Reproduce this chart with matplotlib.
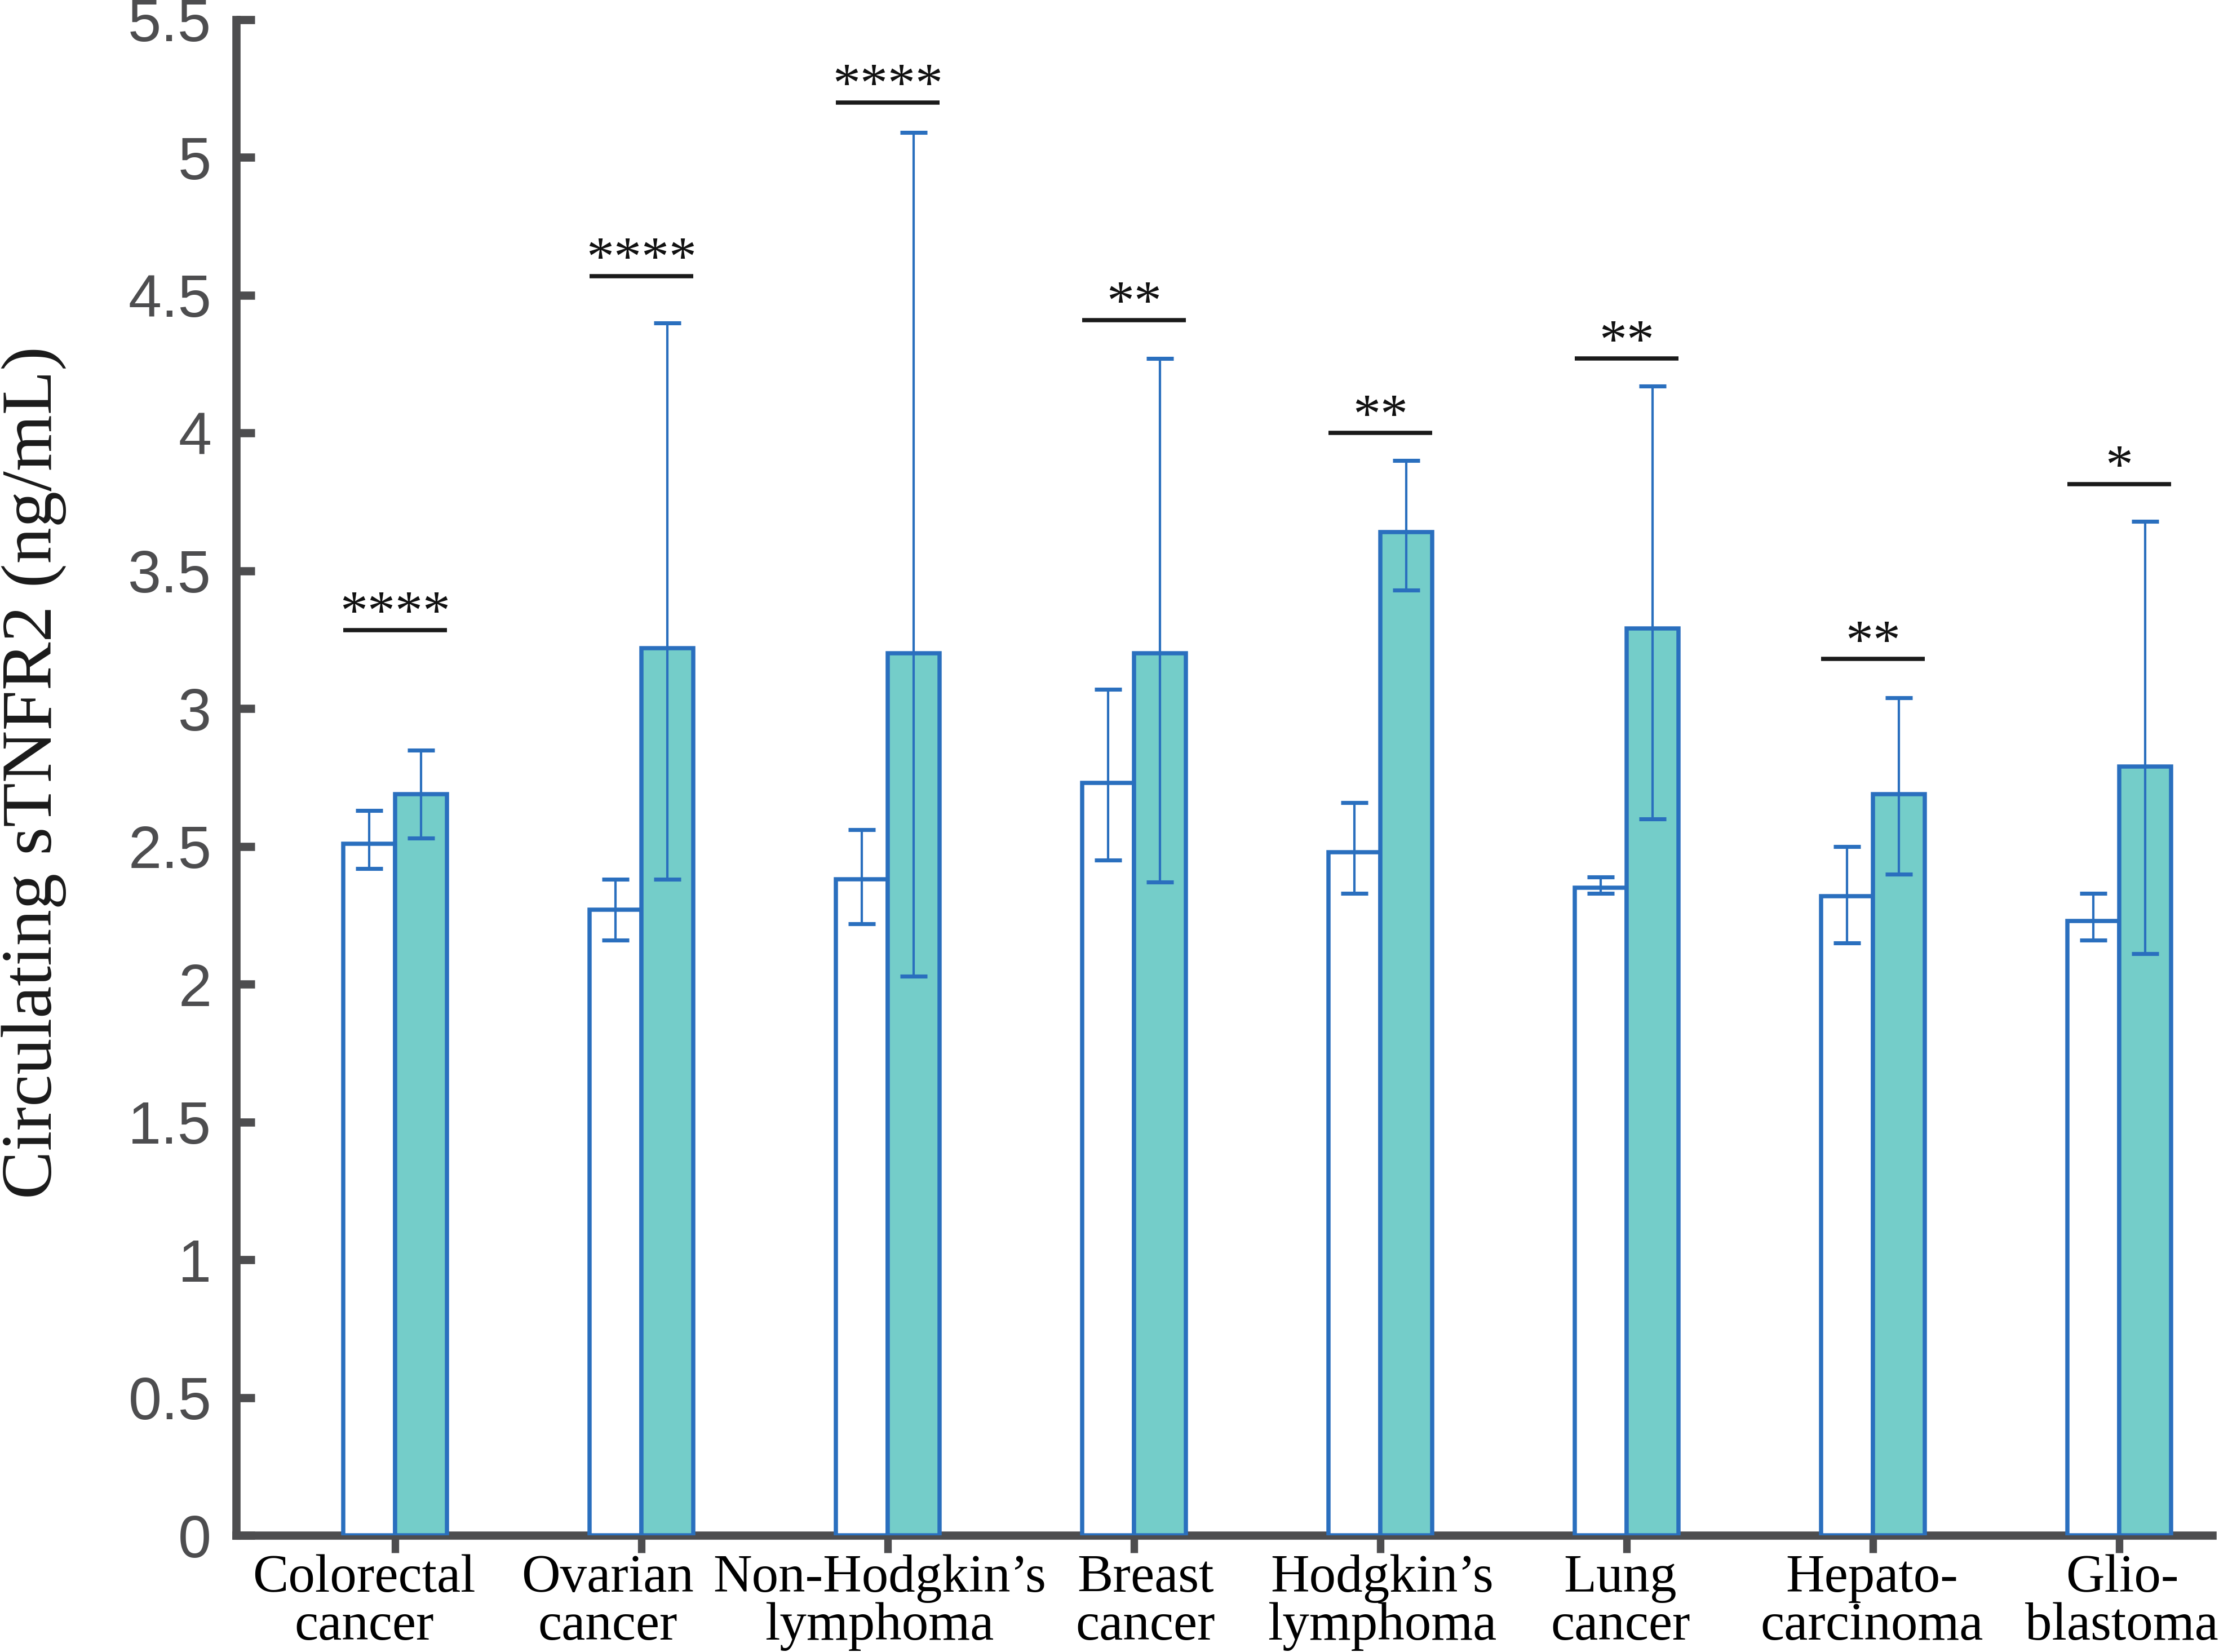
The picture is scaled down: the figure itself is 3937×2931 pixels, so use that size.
import numpy as np
import matplotlib
matplotlib.use('Agg')
import matplotlib.pyplot as plt
from matplotlib.transforms import blended_transform_factory, offset_copy

# values (ng/mL)
labels = ['Colorectal\ncancer', 'Ovarian\ncancer', 'Non-Hodgkin\u2019s\nlymphoma', 'Breast\ncancer',
          'Hodgkin\u2019s\nlymphoma', 'Lung\ncancer', 'Hepato-\ncarcinoma', 'Glio-\nblastoma']
control = [2.51, 2.27, 2.38, 2.73, 2.48, 2.35, 2.32, 2.23]
control_lo = [2.42, 2.16, 2.22, 2.45, 2.33, 2.33, 2.15, 2.16]
control_hi = [2.63, 2.38, 2.56, 3.07, 2.66, 2.39, 2.50, 2.33]
cancer = [2.69, 3.22, 3.20, 3.20, 3.64, 3.29, 2.69, 2.79]
cancer_lo = [2.53, 2.38, 2.03, 2.37, 3.43, 2.60, 2.40, 2.11]
cancer_hi = [2.85, 4.40, 5.09, 4.27, 3.90, 4.17, 3.04, 3.68]
sig_y = [3.285, 4.57, 5.20, 4.41, 4.00, 4.27, 3.18, 3.815]
sig_txt = ['****', '****', '****', '**', '**', '**', '**', '*']

# small horizontal nudges of the category labels (points), as in the original
label_shift = [-13.2, -14.4, -3.4, 5.0, 0.7, -2.6, -0.5, 1.2]

blue = '#2a6fbe'
teal = '#74cdc9'
axis_col = '#4d4d4f'

fig = plt.figure(figsize=(3937 / 300, 2931 / 300), dpi=300)
ax = fig.add_axes([419 / 3937, 1 - 2724 / 2931, (3925 - 419) / 3937, (2724 - 35) / 2931])

x = np.arange(1, len(labels) + 1)
w = 0.21
control = np.array(control)
cancer = np.array(cancer)
err_c = [control - np.array(control_lo), np.array(control_hi) - control]
err_t = [cancer - np.array(cancer_lo), np.array(cancer_hi) - cancer]

ax.bar(x - w / 2, control, w, color='white', edgecolor=blue, linewidth=1.8, zorder=3)
ax.bar(x + w / 2, cancer, w, color=teal, edgecolor=blue, linewidth=1.8, zorder=3)
ax.errorbar(x - w / 2, control, yerr=err_c, fmt='none', ecolor=blue, elinewidth=1.0,
            capsize=5.8, capthick=1.7, zorder=4)
ax.errorbar(x + w / 2, cancer, yerr=err_t, fmt='none', ecolor=blue, elinewidth=1.0,
            capsize=5.8, capthick=1.7, zorder=4)

for xi, yi, s in zip(x, sig_y, sig_txt):
    ax.plot([xi - w, xi + w], [yi, yi], color='#1a1a1a', lw=1.8, solid_capstyle='butt', zorder=4)
    ax.text(xi, yi + 0.005, s, ha='center', va='baseline', fontsize=23.5,
            family='Liberation Serif', color='#111111')

ax.set_xlim(0.355, 8.378)
ax.set_ylim(0, 5.5)
yt = np.arange(0, 5.51, 0.5)
ax.set_yticks(yt)
ax.set_yticklabels(['%g' % v for v in yt], family='Liberation Sans', fontsize=25.5, color=axis_col)
ax.set_xticks(x)
ax.set_xticklabels([])

# category labels drawn as text so each can be nudged sideways
base = blended_transform_factory(ax.transData, ax.transAxes)
for xi, lab, dx in zip(x, labels, label_shift):
    tr = offset_copy(base, fig=fig, x=dx, y=-8.0, units='points')
    ax.text(xi, 0, lab, transform=tr, ha='center', va='top', multialignment='center',
            family='Liberation Serif', fontsize=22.8, color='black', linespacing=0.98,
            clip_on=False)

for side in ['top', 'right']:
    ax.spines[side].set_visible(False)
for side in ['left', 'bottom']:
    ax.spines[side].set_linewidth(3.5)
    ax.spines[side].set_color(axis_col)
ax.tick_params(axis='y', direction='in', length=8, width=3.5, color=axis_col, pad=10.5)
ax.tick_params(axis='x', direction='out', length=7.5, width=3.2, color=axis_col, pad=0.5)

fig.text(60 / 3937, 1 - 1371 / 2931, 'Circulating sTNFR2 (ng/mL)', rotation=90,
         ha='center', va='center', family='Liberation Serif', fontsize=30.8, color='#1a1a1a')

fig.savefig('out.png', dpi=300)
